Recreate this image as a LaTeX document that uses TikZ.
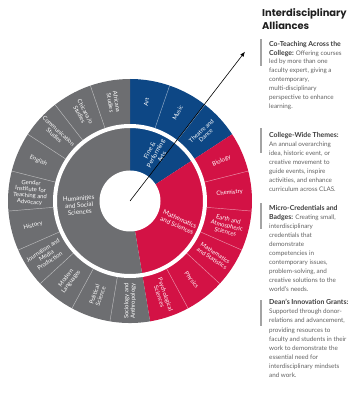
\documentclass[tikz,border=0pt]{standalone}
\usepackage{fontspec}
\setmainfont{Lato}
\newfontfamily\headfont{Poppins}
\usetikzlibrary{arrows.meta}
\definecolor{humgray}{HTML}{6D6E71}
\definecolor{artblue}{HTML}{0D4785}
\definecolor{scired}{HTML}{D31245}
\definecolor{bodygray}{HTML}{616161}
\definecolor{boldgray}{HTML}{3C3C3C}
\definecolor{bargray}{HTML}{A3A3A3}
\newcommand\leadin[1]{{\fontsize{6.9}{8}\selectfont\textcolor{boldgray}{\textbf{#1}}}}
\tikzset{
  dept/.style={text=white, font=\fontsize{5.9}{6.4}\selectfont, align=center, inner sep=0pt},
  school/.style={text=white, font=\fontsize{6.3}{7}\selectfont, align=center, inner sep=0pt},
  sepline/.style={draw=white, draw opacity=0.55, line width=0.45pt},
  body/.style={anchor=base west, inner sep=0pt, font=\fontsize{6.3}{8}\selectfont, text=bodygray},
  head/.style={anchor=base west, inner sep=0pt, font=\headfont\bfseries\fontsize{9.9}{12}\selectfont, text=black!88},
  pointer/.style={draw=black, line width=0.6pt, -{Latex[length=5pt,width=4pt]}},
  barmark/.style={fill=bargray},
}
\begin{document}
\begin{tikzpicture}[x=1pt,y=1pt]
\useasboundingbox (0,0) rectangle (356,400);
\coordinate (C) at (130,199);
\coordinate (tip) at (245,348.3);
\begin{scope}[shift={(C)}]
  % category sectors
  \fill[artblue] (0,0) -- (90:122) arc[start angle=90, end angle=33.158, radius=122] -- cycle;
  \fill[scired] (0,0) -- (33.158:122) arc[start angle=33.158, end angle=-80.526, radius=122] -- cycle;
  \fill[humgray] (0,0) -- (-80.526:122) arc[start angle=-80.526, end angle=-270, radius=122] -- cycle;
  % white ring and hub
  \draw[white, line width=4pt] (0,0) circle[radius=75];
  \fill[white] (0,0) circle[radius=30.5];
  % separators in the outer ring
  \foreach \k in {1,2,4,5,6,7,8,10,11,12,13,14,15,16,17,18} {
    \draw[sepline] ({90-\k*360/19}:77) -- ({90-\k*360/19}:122);
  }
  % department labels
  \foreach \k/\txt in {0/Art, 1/Music, 2/{Theatre and\\Dance}, 3/Biology, 4/Chemistry,
      5/{Earth and\\Atmospheric\\Sciences}, 6/{Mathematics\\and Statistics}, 7/Physics,
      8/{Psychological\\Sciences}, 9/{Sociology and\\Anthropology}, 10/{Political\\Science},
      11/{Modern\\Languages}, 12/{Journalism and\\Media\\Production}, 13/History,
      14/{Gender\\Institute for\\Teaching and\\Advocacy}, 15/English,
      16/{Communication\\Studies}, 17/{Chicana/o\\Studies}, 18/{Africana\\Studies}} {
    \pgfmathsetmacro\m{90-(\k+0.5)*360/19}
    \pgfmathsetmacro\rot{\m < -89.9 ? \m+180 : \m}
    \node[dept, rotate=\rot] (d\k) at (\m:100) {\txt};
  }
  % school labels
  \node[school, rotate=61.58] (fpa) at (61.58:54) {Fine \&\\Performing\\Arts};
  \node[school, rotate=4.74] (hss) at (184.74:51) {Humanities\\and Social\\Sciences};
  \node[school, rotate=-23.68] (mas) at (-23.68:53) {Mathematics\\and Sciences};
\end{scope}
\draw[pointer] (C) -- (tip);
% heading
\node[head] (h1) at (262,383.5) {Interdisciplinary};
\node[head] (h2) at (262,370) {Alliances};
% bars
\fill[barmark] (260.2,361) rectangle (262.2,334);
\fill[barmark] (260.2,272) rectangle (262.2,247);
\fill[barmark] (260.2,197) rectangle (262.2,171);
\fill[barmark] (260.2,100) rectangle (262.2,74);
% paragraphs
\foreach \t [count=\i from 0] in {{\leadin{Co-Teaching Across the}}, {\leadin{College:} Offering courses},
    {led by more than one}, {faculty expert, giving a}, {contemporary,}, {multi-disciplinary},
    {perspective to enhance}, {learning.}}
  \node[body] (pa\i) at (269,{400-46.2-8.85*\i}) {\t};
\foreach \t [count=\i from 0] in {{\leadin{College-Wide Themes:}}, {An annual overarching},
    {idea, historic event, or}, {creative movement to}, {guide events, inspire},
    {activities, and enhance}, {curriculum across CLAS.}}
  \node[body] (pb\i) at (269,{400-137.7-8.95*\i}) {\t};
\foreach \t [count=\i from 0] in {{\leadin{Micro-Credentials and}}, {\leadin{Badges:} Creating small,},
    {interdisciplinary}, {credentials that}, {demonstrate}, {competencies in},
    {contemporary issues,}, {problem-solving, and}, {creative solutions to the}, {world's needs.}}
  \node[body] (pc\i) at (269,{400-210.5-9.0*\i}) {\t};
\foreach \t [count=\i from 0] in {{\leadin{Dean's Innovation Grants:}}, {Supported through donor-},
    {relations and advancement,}, {providing resources to}, {faculty and students in their},
    {work to demonstrate the}, {essential need for}, {interdisciplinary mindsets}, {and work.}}
  \node[body] (pd\i) at (269,{400-304.9-9.04*\i}) {\t};
\end{tikzpicture}
\end{document}
